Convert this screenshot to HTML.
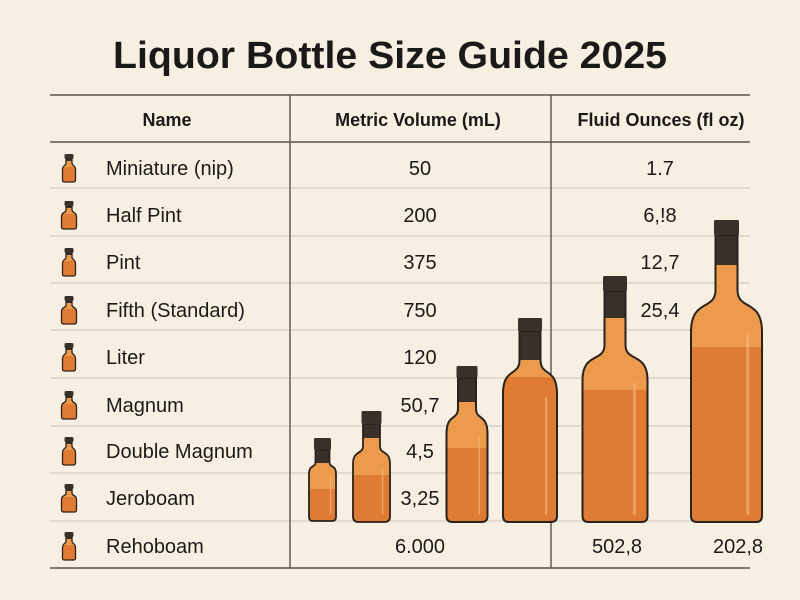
<!DOCTYPE html>
<html><head><meta charset="utf-8"><style>
html,body{margin:0;padding:0;background:#f7efe2;}
svg{display:block;}
text{font-family:"Liberation Sans",sans-serif;fill:#1c1a18;}
</style></head><body>
<svg id="s" width="800" height="600" viewBox="0 0 800 600" xmlns="http://www.w3.org/2000/svg">
<rect width="800" height="600" fill="#f7efe2"/>
<text x="390" y="68" font-size="38" font-weight="bold" text-anchor="middle" textLength="554" lengthAdjust="spacingAndGlyphs">Liquor Bottle Size Guide 2025</text>
<g stroke="#d6cdbf" stroke-width="1.3">
<line x1="50" y1="188" x2="750" y2="188"/><line x1="50" y1="236" x2="750" y2="236"/>
<line x1="50" y1="283" x2="750" y2="283"/><line x1="50" y1="330" x2="750" y2="330"/>
<line x1="50" y1="378" x2="750" y2="378"/><line x1="50" y1="426" x2="750" y2="426"/>
<line x1="50" y1="473" x2="750" y2="473"/><line x1="50" y1="521" x2="750" y2="521"/>
</g>
<g stroke="#5a534c" stroke-width="1.4">
<line x1="50" y1="95" x2="750" y2="95"/><line x1="50" y1="142" x2="750" y2="142"/>
<line x1="50" y1="568" x2="750" y2="568"/>
<line x1="290" y1="95" x2="290" y2="568"/><line x1="551" y1="95" x2="551" y2="568"/>
</g>
<g font-size="18" font-weight="bold" text-anchor="middle">
<text x="167" y="126">Name</text>
<text x="418" y="126">Metric Volume (mL)</text>
<text x="661" y="126">Fluid Ounces (fl oz)</text>
</g>
<g font-size="20">
<text x="106" y="175">Miniature (nip)</text>
<text x="106" y="222">Half Pint</text>
<text x="106" y="269">Pint</text>
<text x="106" y="317">Fifth (Standard)</text>
<text x="106" y="364">Liter</text>
<text x="106" y="412">Magnum</text>
<text x="106" y="458">Double Magnum</text>
<text x="106" y="505">Jeroboam</text>
<text x="106" y="553">Rehoboam</text>
</g>
<g font-size="20" text-anchor="middle">
<text x="420" y="175">50</text><text x="420" y="222">200</text><text x="420" y="269">375</text>
<text x="420" y="317">750</text><text x="420" y="364">120</text><text x="420" y="412">50,7</text>
<text x="420" y="458">4,5</text><text x="420" y="505">3,25</text><text x="420" y="553">6.000</text>
<text x="660" y="175">1.7</text><text x="660" y="222">6,!8</text><text x="660" y="269">12,7</text>
<text x="660" y="317">25,4</text>
<text x="617" y="553">502,8</text><text x="738" y="553">202,8</text>
</g>
<g id="b"></g>
</svg>
<script>
var g=document.getElementById('b'),h='',id=0;
function bottle(cx,bw,nw,capTop,capBot,neckEnd,shEnd,bottom,light,dark,sw){
 id++;
 var r=Math.min(6,bw*0.3),d=shEnd-neckEnd;
 var p='M'+(cx-nw)+','+capBot+' L'+(cx-nw)+','+neckEnd+' C'+(cx-nw)+','+(neckEnd+d*0.5)+' '+(cx-bw)+','+(neckEnd+d*0.2)+' '+(cx-bw)+','+shEnd+
 ' L'+(cx-bw)+','+(bottom-r)+' Q'+(cx-bw)+','+bottom+' '+(cx-bw+r)+','+bottom+' L'+(cx+bw-r)+','+bottom+' Q'+(cx+bw)+','+bottom+' '+(cx+bw)+','+(bottom-r)+
 ' L'+(cx+bw)+','+shEnd+' C'+(cx+bw)+','+(neckEnd+d*0.2)+' '+(cx+nw)+','+(neckEnd+d*0.5)+' '+(cx+nw)+','+neckEnd+' L'+(cx+nw)+','+capBot+' Z';
 h+='<clipPath id="c'+id+'"><path d="'+p+'"/></clipPath>';
 h+='<path d="'+p+'" fill="#3a302a"/>';
 h+='<g clip-path="url(#c'+id+')"><rect x="'+(cx-bw-2)+'" y="'+light+'" width="'+(2*bw+4)+'" height="'+(bottom-light+2)+'" fill="#ec9b4c"/>'+
 '<rect x="'+(cx-bw-2)+'" y="'+dark+'" width="'+(2*bw+4)+'" height="'+(bottom-dark+2)+'" fill="#df7b32"/>'+
 (bw>10?'<line x1="'+(cx+bw*0.6)+'" y1="'+(shEnd+4)+'" x2="'+(cx+bw*0.6)+'" y2="'+(bottom-8)+'" stroke="#f3b57a" stroke-width="'+Math.max(1.5,bw*0.08)+'" stroke-linecap="round" opacity="0.7"/>':'')+'</g>';
 h+='<path d="'+p+'" fill="none" stroke="#2a221d" stroke-width="'+sw+'"/>';
 var cw=nw+1.5;
 h+='<rect x="'+(cx-cw)+'" y="'+capTop+'" width="'+(2*cw)+'" height="'+(capBot-capTop)+'" rx="1.5" fill="#3a302a"/>';
}
bottle(322.5,13.5,7,438,450,462,474,521,463,489,1.8);
bottle(371.5,18.5,8.5,411,424,446,464,522,438,475,1.8);
bottle(467,20.5,9,366,378,408,434,522,402,448,2);
bottle(530,27,10.5,318,331,360,394,522,360,377,2);
bottle(615,32.5,10.5,276,291,345,380,522,318,390,2);
bottle(726.5,35.5,11,220,235,290,332,522,265,347,2);
var ys=[168,215,262,310,357,405,451,498,546];
ys.forEach(function(y,i){var w=(i%2==0)?6.5:7.5;bottle(69,w,3,y-14,y-9,y-5,y+2,y+14,y-7,y-1,1.3);});
g.innerHTML=h;
</script>
</body></html>
